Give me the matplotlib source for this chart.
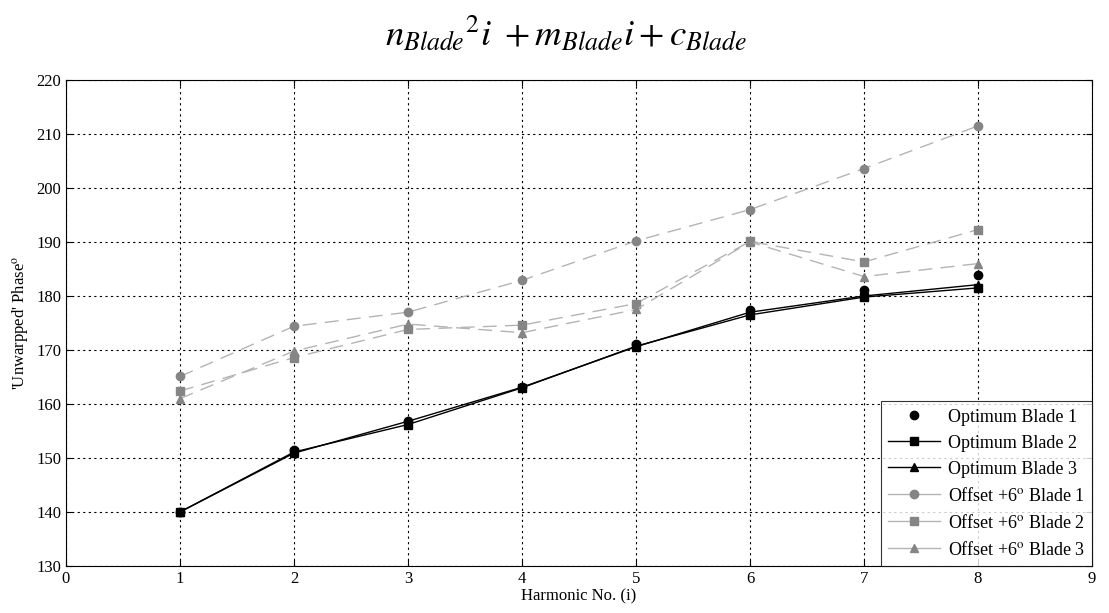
import matplotlib.pyplot as plt

plt.rcParams['font.family'] = ['Liberation Serif', 'DejaVu Serif']
plt.rcParams['mathtext.fontset'] = 'stix'

harmonic = [1, 2, 3, 4, 5, 6, 7, 8]

opt_blade1 = [140.0, 151.4, 156.8, 163.2, 171.2, 177.4, 181.1, 183.8]
opt_blade2 = [140.0, 151.1, 156.2, 163.0, 170.7, 176.5, 179.8, 181.5]
opt_blade3 = [140.0, 150.9, 156.8, 163.1, 170.6, 177.0, 180.0, 182.1]

off_blade1 = [165.1, 174.4, 177.0, 182.9, 190.2, 196.0, 203.6, 211.5]
off_blade2 = [162.4, 168.6, 173.8, 174.6, 178.6, 190.1, 186.3, 192.3]
off_blade3 = [161.0, 169.8, 174.8, 173.2, 177.5, 190.0, 183.6, 186.0]

fig = plt.figure(figsize=(11.09, 6.13), dpi=100)
ax = fig.add_axes([0.0595, 0.0767, 0.9252, 0.7928])

mk = 6
ax.plot(harmonic, opt_blade1, 'o', color='black', markersize=mk, label='Optimum Blade 1')
ax.plot(harmonic, opt_blade2, '-s', color='black', lw=1.0, markersize=mk, label='Optimum Blade 2')
ax.plot(harmonic, opt_blade3, '-^', color='black', lw=1.0, markersize=mk, label='Optimum Blade 3')

dash = (0, (10, 6))
line_grey = '#b4b4b4'
mark_grey = '#858585'
for vals, m, name in [(off_blade1, 'o', 'Offset +6$^{\\mathrm{o}}$ Blade 1'),
                      (off_blade2, 's', 'Offset +6$^{\\mathrm{o}}$ Blade 2'),
                      (off_blade3, '^', 'Offset +6$^{\\mathrm{o}}$ Blade 3')]:
    ax.plot(harmonic, vals, linestyle=dash, color=line_grey, lw=1.0,
            marker=m, markersize=mk, markerfacecolor=mark_grey,
            markeredgecolor=mark_grey, label=name)

ax.set_xlim(0, 9)
ax.set_ylim(130, 220)
ax.set_xticks(range(0, 10))
ax.set_yticks(range(130, 221, 10))
ax.grid(True, color='black', linestyle=(0, (2, 3)), linewidth=0.8)
ax.tick_params(direction='in', length=4, labelsize=12, top=True, right=True)
for s in ax.spines.values():
    s.set_linewidth(0.8)

ax.set_xlabel('Harmonic No. (i)', fontsize=12, labelpad=1)
ax.set_ylabel("'Unwarpped' Phase$^{\\mathrm{o}}$", fontsize=12, labelpad=4)

fig.text(0.51, 0.943, r'$n_{Blade}{}^{2}i\ + m_{Blade}i + c_{Blade}$',
         ha='center', va='center', fontsize=26.5)

leg = ax.legend(loc='lower right', fontsize=13, frameon=True, fancybox=False,
                edgecolor='black', borderaxespad=0, handlelength=2.9,
                handletextpad=0.4, labelspacing=0.5, borderpad=0.4)
leg.get_frame().set_linewidth(0.8)
# short legend handles for the offset series read better as solid strokes
for h in leg.get_lines()[3:]:
    h.set_linestyle('-')

fig.savefig('out.png', dpi=100)
